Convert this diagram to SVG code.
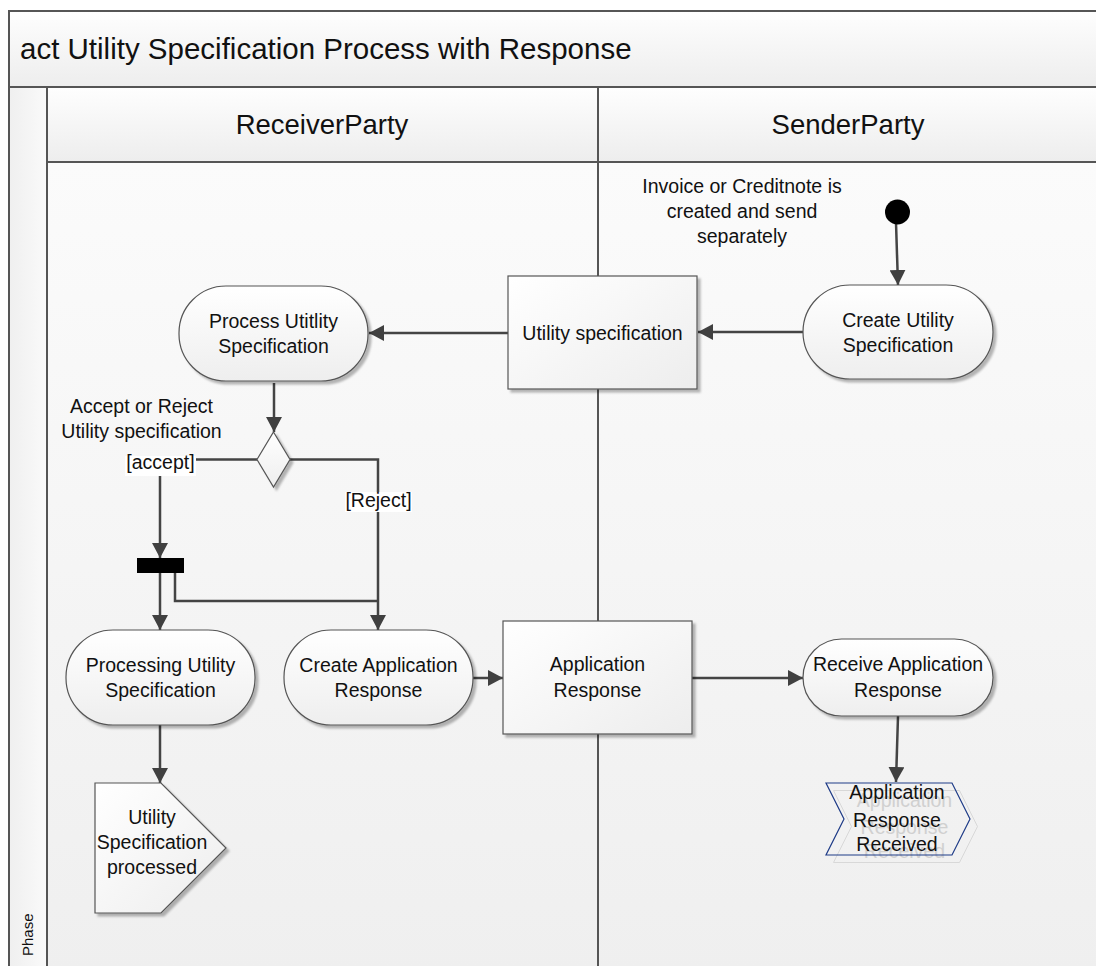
<svg xmlns="http://www.w3.org/2000/svg" width="1096" height="966" viewBox="0 0 1096 966">
<defs>
  <linearGradient id="hdr" x1="0" y1="0" x2="0" y2="1">
    <stop offset="0" stop-color="#fefefe"/>
    <stop offset="1" stop-color="#ededed"/>
  </linearGradient>
  <linearGradient id="body" x1="0" y1="0" x2="0" y2="1">
    <stop offset="0" stop-color="#fbfbfb"/>
    <stop offset="1" stop-color="#efefef"/>
  </linearGradient>
  <linearGradient id="phase" x1="0" y1="0" x2="1" y2="0">
    <stop offset="0" stop-color="#efefef"/>
    <stop offset="1" stop-color="#fafafa"/>
  </linearGradient>
  <linearGradient id="nodeg" x1="0" y1="0" x2="0" y2="1">
    <stop offset="0" stop-color="#ffffff"/>
    <stop offset="1" stop-color="#eeeeee"/>
  </linearGradient>
  <linearGradient id="boxg" x1="0" y1="0" x2="1" y2="1">
    <stop offset="0" stop-color="#ffffff"/>
    <stop offset="1" stop-color="#ededed"/>
  </linearGradient>
  <filter id="sh" x="-10%" y="-10%" width="130%" height="130%">
    <feDropShadow dx="3" dy="3" stdDeviation="1.3" flood-color="#000" flood-opacity="0.28"/>
  </filter>
  <marker id="arr" viewBox="0 0 15 16" refX="15" refY="8" markerWidth="15" markerHeight="16" markerUnits="userSpaceOnUse" orient="auto">
    <path d="M0,0 L15,8 L0,16 Z" fill="#404040"/>
  </marker>
</defs>
<style>
  .frame{stroke:#555;stroke-width:2;fill:none}
  .ln{stroke:#444;stroke-width:2.5;fill:none}
  .t{font-family:"Liberation Sans",Arial,sans-serif;font-size:19.5px;fill:#111;text-anchor:middle}
  .ghost{font-family:"Liberation Sans",Arial,sans-serif;font-size:19.5px;fill:#d0d0d0;text-anchor:middle}
  .pill{fill:url(#nodeg);stroke:#555;stroke-width:1.2;filter:url(#sh)}
  .box{fill:url(#boxg);stroke:#555;stroke-width:1.2;filter:url(#sh)}
  .lbl{fill:#ffffff}
</style>

<g id="frame">
  <rect x="0" y="0" width="1096" height="966" fill="#ffffff"/>
  <rect x="9" y="11" width="1100" height="76" fill="url(#hdr)"/>
  <rect x="9" y="87" width="38" height="890" fill="url(#phase)"/>
  <rect x="47" y="87" width="1060" height="75" fill="url(#hdr)"/>
  <rect x="47" y="162" width="1060" height="810" fill="url(#body)"/>
  <path class="frame" d="M9,975 V11 H1100"/>
  <path class="frame" d="M9,87 H1100 M47,162 H1100 M47,87 V975 M598,87 V975"/>
  <text x="20" y="59" style="font-family:'Liberation Sans',Arial,sans-serif;font-size:29.5px;fill:#111">act Utility Specification Process with Response</text>
  <text x="322" y="134" style="font-family:'Liberation Sans',Arial,sans-serif;font-size:27.5px;fill:#111;text-anchor:middle">ReceiverParty</text>
  <text x="848" y="134" style="font-family:'Liberation Sans',Arial,sans-serif;font-size:27.5px;fill:#111;text-anchor:middle">SenderParty</text>
  <text transform="translate(33,956) rotate(-90)" style="font-family:'Liberation Sans',Arial,sans-serif;font-size:15px;fill:#111">Phase</text>
</g>

<g id="connectors">
  <path class="ln" marker-end="url(#arr)" d="M896,223 L898,285"/>
  <path class="ln" marker-end="url(#arr)" d="M803,332 H698"/>
  <path class="ln" marker-end="url(#arr)" d="M508,333 H369"/>
  <path class="ln" marker-end="url(#arr)" d="M274,383 V432"/>
  <path class="ln" marker-end="url(#arr)" d="M257,459.5 H160 V558"/>
  <path class="ln" marker-end="url(#arr)" d="M290,459.5 H378 V630"/>
  <path class="ln" marker-end="url(#arr)" d="M160,573 V630"/>
  <path class="ln" d="M175,573 V601 H378"/>
  <path class="ln" marker-end="url(#arr)" d="M473,678 H503"/>
  <path class="ln" marker-end="url(#arr)" d="M692,678 H803"/>
  <path class="ln" marker-end="url(#arr)" d="M898,716 L896,782"/>
  <path class="ln" marker-end="url(#arr)" d="M160,725 V783"/>
  <rect class="lbl" x="125" y="456" width="71" height="20"/>
  <text class="t" x="160.5" y="469">[accept]</text>
  <rect class="lbl" x="345" y="492" width="67" height="20"/>
  <text class="t" x="378.5" y="507">[Reject]</text>
</g>

<g id="note">
  <text class="t" x="742" y="193">Invoice or Creditnote is</text>
  <text class="t" x="742" y="218">created and send</text>
  <text class="t" x="742" y="243">separately</text>
</g>

<g id="initial">
  <circle cx="897.5" cy="212" r="12.5" fill="#000"/>
</g>

<g id="createUtility">
  <rect class="pill" x="803" y="285" width="190" height="94" rx="47" ry="47"/>
  <text class="t" x="898" y="327">Create Utility</text>
  <text class="t" x="898" y="352">Specification</text>
</g>

<g id="utilitySpec">
  <rect class="box" x="508" y="276" width="189" height="113"/>
  <text class="t" x="602.5" y="340">Utility specification</text>
</g>

<g id="processUtility">
  <rect class="pill" x="179" y="286" width="189" height="95" rx="47" ry="47"/>
  <text class="t" x="273.5" y="328">Process Utitlity</text>
  <text class="t" x="273.5" y="353">Specification</text>
</g>

<g id="decision">
  <polygon points="273.5,432 290,459.5 273.5,487 257,459.5" fill="url(#nodeg)" stroke="#555" stroke-width="1.2" filter="url(#sh)"/>
  <text class="t" x="141.5" y="413">Accept or Reject</text>
  <text class="t" x="141.5" y="438">Utility specification</text>
</g>

<g id="fork">
  <rect x="137" y="558" width="47" height="15" fill="#000"/>
</g>

<g id="processingUtility">
  <rect class="pill" x="66" y="630" width="189" height="95" rx="47" ry="47"/>
  <text class="t" x="160.5" y="672">Processing Utility</text>
  <text class="t" x="160.5" y="697">Specification</text>
</g>

<g id="createAppResponse">
  <rect class="pill" x="284" y="630" width="189" height="95" rx="47" ry="47"/>
  <text class="t" x="378.5" y="672">Create Application</text>
  <text class="t" x="378.5" y="697">Response</text>
</g>

<g id="appResponse">
  <rect class="box" x="503" y="621" width="189" height="113"/>
  <text class="t" x="597.5" y="671">Application</text>
  <text class="t" x="597.5" y="697">Response</text>
</g>

<g id="receiveAppResponse">
  <rect class="pill" x="803" y="639" width="190" height="77" rx="38.5" ry="38.5"/>
  <text class="t" x="898" y="671">Receive Application</text>
  <text class="t" x="898" y="697">Response</text>
</g>

<g id="utilityProcessed">
  <polygon points="95,783 161,783 226,848 161,913 95,913" fill="url(#boxg)" stroke="#555" stroke-width="1.2" filter="url(#sh)"/>
  <text class="t" x="152" y="824">Utility</text>
  <text class="t" x="152" y="849">Specification</text>
  <text class="t" x="152" y="874">processed</text>
</g>

<g id="appResponseReceived">
  <polygon points="833.5,790.5 959.5,790.5 977.5,826.5 959.5,862.5 833.5,862.5 851.5,826.5" fill="none" stroke="#d8d8d8" stroke-width="1"/>
  <text class="ghost" x="904.5" y="806.5">Application</text>
  <text class="ghost" x="904.5" y="834">Response</text>
  <text class="ghost" x="904.5" y="858">Received</text>
  <polygon points="826,783 952,783 970,819 952,855 826,855 844,819" fill="none" stroke="#1f3c88" stroke-width="1.2"/>
  <text class="t" x="897" y="799">Application</text>
  <text class="t" x="897" y="826.5">Response</text>
  <text class="t" x="897" y="850.5">Received</text>
</g>
</svg>
